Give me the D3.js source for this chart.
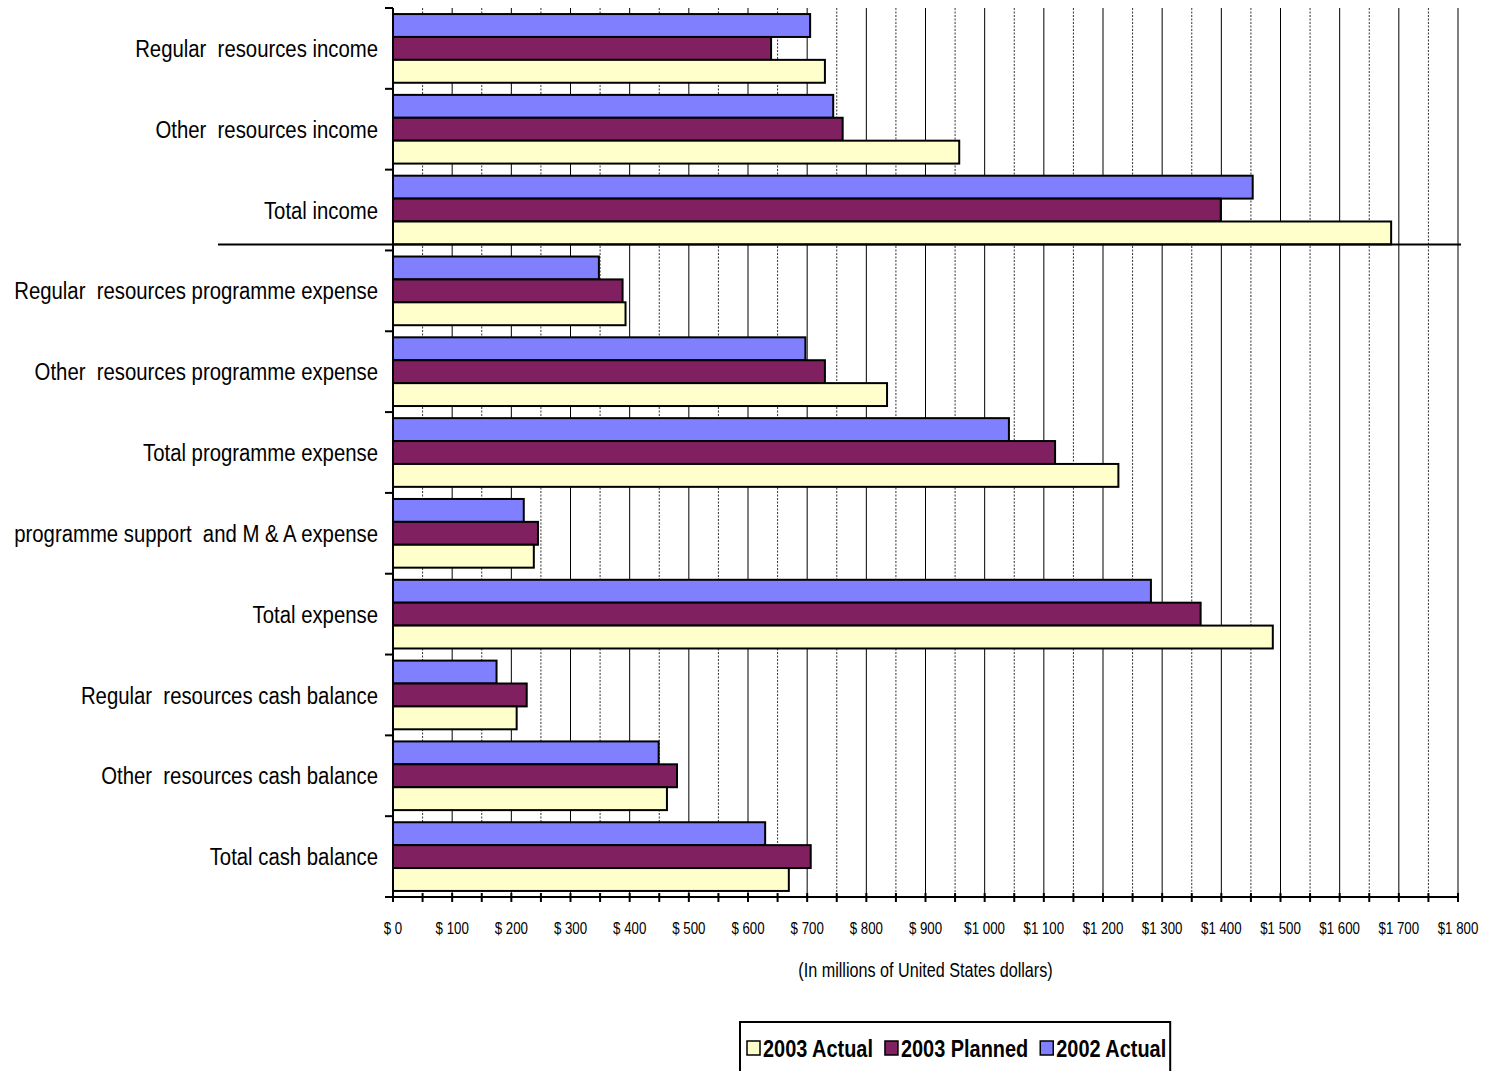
<!DOCTYPE html>
<html>
<head>
<meta charset="utf-8">
<script src="https://cdn.jsdelivr.net/npm/d3@7"></script>
<style>
    body { margin: 0; background: #fff; }
    svg text { font-family: "Liberation Sans", Arial, sans-serif; fill: #000; }
</style>
</head>
<body>
<div id="chart"></div>
<script>
const categories = [
    "Regular  resources income",
    "Other  resources income",
    "Total income",
    "Regular  resources programme expense",
    "Other  resources programme expense",
    "Total programme expense",
    "programme support  and M & A expense",
    "Total expense",
    "Regular  resources cash balance",
    "Other  resources cash balance",
    "Total cash balance"
];

// top to bottom inside each group
const seriesNames = ["2002 Actual", "2003 Planned", "2003 Actual"];
const actual2002 = [705, 744, 1453, 348, 697, 1041, 221, 1281, 175, 449, 629];
const planned2003 = [639, 760, 1399, 388, 730, 1119, 245, 1365, 226, 480, 706];
const actual2003 = [730, 957, 1687, 393, 835, 1226, 238, 1487, 209, 463, 669];

const xTickValues = [0, 100, 200, 300, 400, 500, 600, 700, 800, 900, 1000, 1100, 1200, 1300, 1400, 1500, 1600, 1700, 1800];
const xTickLabels = ["$ 0", "$ 100", "$ 200", "$ 300", "$ 400", "$ 500", "$ 600", "$ 700", "$ 800", "$ 900",
    "$1 000", "$1 100", "$1 200", "$1 300", "$1 400", "$1 500", "$1 600", "$1 700", "$1 800"];
const xAxisTitle = "(In millions of United States dollars)";
const legendOrder = ["2003 Actual", "2003 Planned", "2002 Actual"];

const colors = {
    "2002 Actual": "#8080ff",
    "2003 Planned": "#802060",
    "2003 Actual": "#ffffcc"
};

// the source uses a condensed face; squeeze the installed one to match
const narrow = 0.83;

const dimension = {
    width: 1486,
    height: 1071,
    margin: { top: 8, left: 393, bottom: 174, right: 28 }
};
dimension.boundedWidth = dimension.width - dimension.margin.left - dimension.margin.right;
dimension.boundedHeight = dimension.height - dimension.margin.top - dimension.margin.bottom;

const rows = categories.map((c, i) => ({
    category: c,
    values: [
        { key: "2002 Actual", value: actual2002[i] },
        { key: "2003 Planned", value: planned2003[i] },
        { key: "2003 Actual", value: actual2003[i] }
    ]
}));

const svg = d3.select("#chart").append("svg")
    .attr("width", dimension.width)
    .attr("height", dimension.height);

const bounded = svg.append("g")
    .attr("transform", `translate(${dimension.margin.left},${dimension.margin.top})`);

const xScaler = d3.scaleLinear()
    .domain([0, 1800])
    .range([0, dimension.boundedWidth]);

const yScaler = d3.scaleBand()
    .domain(categories)
    .range([0, dimension.boundedHeight])
    .paddingInner(0.15)
    .paddingOuter(0.075);

const ySub = d3.scaleBand()
    .domain(seriesNames)
    .range([0, yScaler.bandwidth()]);

const step = yScaler.step();
const groupStart = c => yScaler(c) - step * yScaler.paddingInner() / 2;

// gridlines every $50, solid on the hundreds
const gridValues = d3.range(50, 1801, 50);
bounded.append("g")
    .selectAll("line")
    .data(gridValues)
    .join("line")
    .attr("x1", d => xScaler(d))
    .attr("x2", d => xScaler(d))
    .attr("y1", 0)
    .attr("y2", dimension.boundedHeight)
    .attr("stroke", d => d % 100 === 0 ? "#000" : "#333")
    .attr("stroke-width", 1)
    .attr("stroke-dasharray", d => d % 100 === 0 ? null : "2,1.5");

// bars
const groups = bounded.append("g")
    .selectAll("g")
    .data(rows)
    .join("g")
    .attr("transform", d => `translate(0,${yScaler(d.category)})`);

groups.selectAll("rect")
    .data(d => d.values)
    .join("rect")
    .attr("x", xScaler(0))
    .attr("y", d => ySub(d.key))
    .attr("width", d => xScaler(d.value) - xScaler(0))
    .attr("height", ySub.bandwidth())
    .attr("fill", d => colors[d.key])
    .attr("stroke", "#000")
    .attr("stroke-width", 2);

// separator under the income block
const sepY = yScaler(categories[2]) + ySub("2003 Actual") + ySub.bandwidth();
bounded.append("line")
    .attr("x1", 218 - dimension.margin.left)
    .attr("x2", xScaler(1800) + 3)
    .attr("y1", sepY)
    .attr("y2", sepY)
    .attr("stroke", "#000")
    .attr("stroke-width", 2);

// left axis
bounded.append("line")
    .attr("x1", 0).attr("x2", 0)
    .attr("y1", 0).attr("y2", dimension.boundedHeight)
    .attr("stroke", "#000").attr("stroke-width", 2);

const boundaries = categories.map(groupStart).concat([dimension.boundedHeight]);
bounded.append("g")
    .selectAll("line")
    .data(boundaries)
    .join("line")
    .attr("x1", -8).attr("x2", 0)
    .attr("y1", d => d).attr("y2", d => d)
    .attr("stroke", "#000").attr("stroke-width", 2);

bounded.append("g")
    .selectAll("text")
    .data(categories)
    .join("text")
    .attr("transform", d => `translate(-15,${yScaler(d) + yScaler.bandwidth() / 2}) scale(${narrow},1)`)
    .attr("dy", "0.35em")
    .attr("text-anchor", "end")
    .attr("xml:space", "preserve")
    .style("white-space", "pre")
    .style("font-size", "24.5px")
    .text(d => d);

// bottom axis
bounded.append("line")
    .attr("x1", 0).attr("x2", xScaler(1800))
    .attr("y1", dimension.boundedHeight).attr("y2", dimension.boundedHeight)
    .attr("stroke", "#000").attr("stroke-width", 2);

bounded.append("g")
    .selectAll("line")
    .data(d3.range(0, 1801, 50))
    .join("line")
    .attr("x1", d => xScaler(d)).attr("x2", d => xScaler(d))
    .attr("y1", dimension.boundedHeight - 4)
    .attr("y2", dimension.boundedHeight + 5)
    .attr("stroke", "#000").attr("stroke-width", 2);

bounded.append("g")
    .selectAll("text")
    .data(xTickValues)
    .join("text")
    .attr("transform", d => `translate(${xScaler(d)},${dimension.boundedHeight + 37}) scale(${narrow},1)`)
    .attr("text-anchor", "middle")
    .style("font-size", "16px")
    .text((d, i) => xTickLabels[i]);

bounded.append("text")
    .attr("transform", `translate(${xScaler(900)},${dimension.boundedHeight + 80}) scale(${narrow},1)`)
    .attr("text-anchor", "middle")
    .style("font-size", "19.5px")
    .text(xAxisTitle);

// legend
const legend = svg.append("g")
    .attr("transform", "translate(740,1022)");

const legendBox = legend.append("rect")
    .attr("x", 0).attr("y", 0)
    .attr("height", 62)
    .attr("fill", "#fff")
    .attr("stroke", "#000")
    .attr("stroke-width", 2);

let cursor = 7;
legendOrder.forEach(name => {
    legend.append("rect")
        .attr("x", cursor)
        .attr("y", 19)
        .attr("width", 13)
        .attr("height", 14)
        .attr("fill", colors[name])
        .attr("stroke", "#000")
        .attr("stroke-width", 1.5);
    const t = legend.append("text")
        .attr("transform", `translate(${cursor + 16},35) scale(${narrow},1)`)
        .style("font-size", "24px")
        .style("font-weight", "bold")
        .text(name);
    cursor += 16 + t.node().getComputedTextLength() * narrow + 12;
});
legendBox.attr("width", cursor - 8);
</script>
</body>
</html>
